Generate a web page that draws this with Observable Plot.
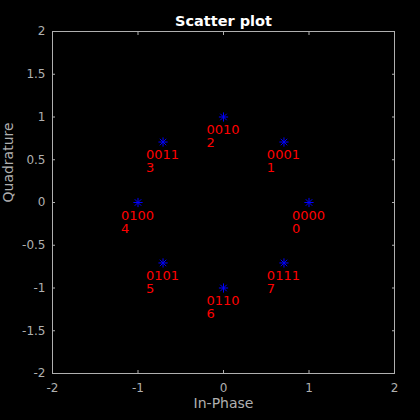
<!DOCTYPE html>
<html><head><meta charset="utf-8">
<script src="https://cdn.jsdelivr.net/npm/d3@7"></script>
<script src="https://cdn.jsdelivr.net/npm/@observablehq/plot@0.6"></script>
<style>html,body{margin:0;padding:0;background:#000;}</style>
</head><body><div id="chart"></div>
<script>
const title = "Scatter plot";
const xLabel = "In-Phase";
const yLabel = "Quadrature";
const symbolIndex = [0, 1, 2, 3, 4, 5, 6, 7];
const binaryLabels = ["0000", "0001", "0010", "0011", "0100", "0101", "0110", "0111"];
const inPhase = [1, 0.7071, 0, -0.7071, -1, -0.7071, 0, 0.7071];
const quadrature = [0, 0.7071, 1, 0.7071, 0, -0.7071, -1, -0.7071];
const xTicks = [-2, -1, 0, 1, 2];
const yTicks = [-2, -1.5, -1, -0.5, 0, 0.5, 1, 1.5, 2];

const points = symbolIndex.map((s, k) => ({s, bin: binaryLabels[k], i: inPhase[k], q: quadrature[k]}));

const asterisk = {
  draw(ctx, size) {
    const r = Math.sqrt(size / Math.PI);
    const d = r * Math.SQRT1_2;
    ctx.moveTo(-r, 0); ctx.lineTo(r, 0);
    ctx.moveTo(0, -r); ctx.lineTo(0, r);
    ctx.moveTo(-d, -d); ctx.lineTo(d, d);
    ctx.moveTo(-d, d); ctx.lineTo(d, -d);
  }
};

const gray = "#b0b0b0";
const fmt = d => String(d);

const chart = Plot.plot({
  width: 420,
  height: 420,
  marginLeft: 52,
  marginRight: 26,
  marginTop: 31,
  marginBottom: 47,
  style: {background: "black", color: gray, fontFamily: "DejaVu Sans", fontSize: "12px"},
  x: {domain: [-2, 2]},
  y: {domain: [-2, 2]},
  marks: [
    Plot.frame({stroke: gray}),
    Plot.axisX({ticks: xTicks, anchor: "bottom", tickSize: -3, tickPadding: 13, tickFormat: fmt, label: null, stroke: gray}),
    Plot.axisX({ticks: xTicks, anchor: "top", tickSize: -3, tickFormat: () => "", label: null, stroke: gray}),
    Plot.axisY({ticks: yTicks, anchor: "left", tickSize: -3, tickPadding: 10, tickFormat: fmt, label: null, stroke: gray}),
    Plot.axisY({ticks: yTicks, anchor: "right", tickSize: -3, tickFormat: () => "", label: null, stroke: gray}),
    Plot.dot(points, {x: "i", y: "q", symbol: asterisk, r: 4.6, stroke: "#0000ff", fill: "none", strokeWidth: 1}),
    Plot.text(points, {x: d => d.i - 0.2, y: d => d.q - 0.23, text: d => d.bin + "\n" + d.s, textAnchor: "start", lineAnchor: "middle", lineHeight: 1, fill: "#ff0000", fontSize: 13, fontFamily: "DejaVu Sans"}),
    Plot.text([title], {frameAnchor: "top", dy: -16, fill: "white", fontWeight: "bold", fontSize: 14.5}),
    Plot.text([xLabel], {frameAnchor: "bottom", dy: 34, fill: gray, fontSize: 14}),
    Plot.text([yLabel], {frameAnchor: "left", dx: -44, rotate: -90, fill: gray, fontSize: 14})
  ]
});
document.getElementById("chart").appendChild(chart);
</script>
</body></html>
